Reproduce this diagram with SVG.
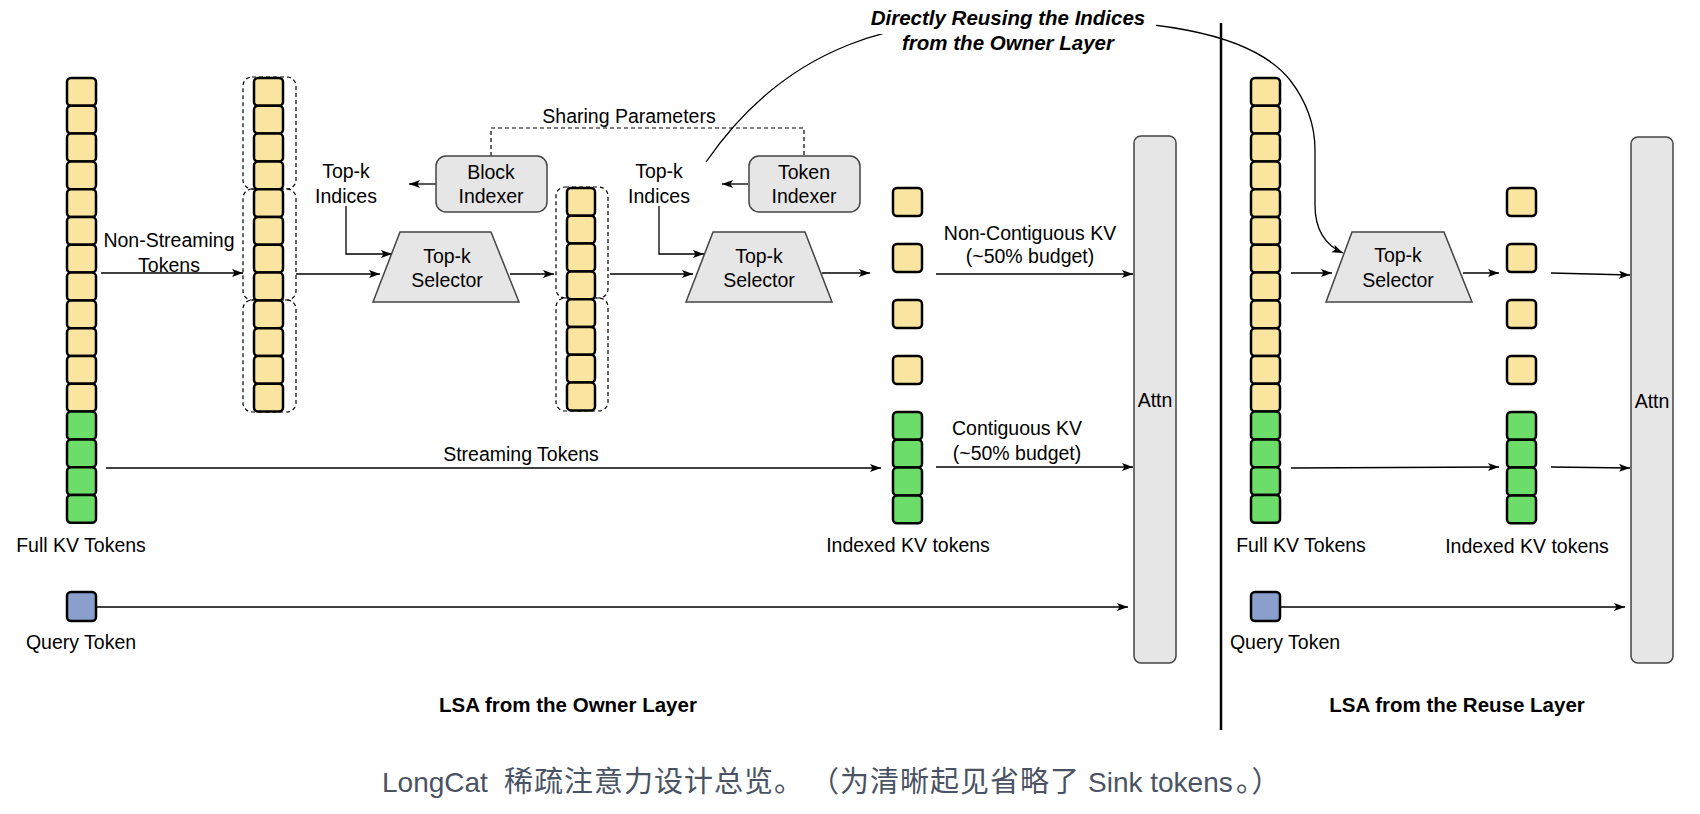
<svg xmlns="http://www.w3.org/2000/svg" width="1700" height="814" viewBox="0 0 1700 814">
<style>
text{font-family:"Liberation Sans",Arial,sans-serif;font-size:19.5px;fill:#000;text-anchor:middle}
.b{font-weight:bold;font-size:20.5px}
.bi{font-weight:bold;font-style:italic;font-size:20.5px}
.cap{font-family:"Liberation Sans","Noto Sans CJK SC",sans-serif;font-size:28px;fill:#4a5363;text-anchor:start}
.cj{font-family:"Noto Sans CJK SC",sans-serif;font-size:29px;letter-spacing:1px}
.y{fill:#fae5a0;stroke:#000;stroke-width:2.5}
.g{fill:#6ddd6a;stroke:#000;stroke-width:2.5}
.q{fill:#8a9fcc;stroke:#000;stroke-width:2.5}
.box{fill:#e6e6e6;stroke:#444;stroke-width:1.5}
.dash{fill:none;stroke:#000;stroke-width:1.2;stroke-dasharray:4 3}
.ln{fill:none;stroke:#000;stroke-width:1.3}
.ar{fill:none;stroke:#000;stroke-width:1.3;marker-end:url(#ah)}
</style>
<defs>
<marker id="ah" markerUnits="userSpaceOnUse" markerWidth="12" markerHeight="9" refX="11" refY="4" orient="auto">
<path d="M0,0 L11,4 L0,8 L2.5,4 z" fill="#000"/>
</marker>
</defs>
<rect width="1700" height="814" fill="#fff"/>

<g id="connectors">
<path class="ar" d="M101,273 H243"/>
<path class="ar" d="M296,274 H380"/>
<path class="ar" d="M510,274 H554"/>
<path class="ar" d="M610,274 H693"/>
<path class="ar" d="M822,273 H870"/>
<path class="ar" d="M936,274 H1133"/>
<path class="ar" d="M106,468 H881"/>
<path class="ar" d="M936,467 H1133"/>
<path class="ar" d="M96,607 H1128"/>
<path class="ar" d="M436,184 H409"/>
<path class="ar" d="M748,184 H722"/>
<path class="ar" d="M346,206 V254 H392"/>
<path class="ar" d="M659,206 V254 H704"/>
<path class="dash" d="M491,156 V128 H804 V156"/>
<path class="ar" d="M706,162 C790,40 900,20 1010,18 C1150,18 1250,30 1290,80 C1310,106 1315,132 1315,150 L1315,205 C1315,230 1325,245 1343,253"/>
<path class="ar" d="M1291,273 H1332"/>
<path class="ar" d="M1463,273 H1499"/>
<path class="ar" d="M1551,273 L1630,275"/>
<path class="ar" d="M1291,468 L1499,467"/>
<path class="ar" d="M1551,467 L1630,468"/>
<path class="ar" d="M1279,607 H1625"/>
</g>

<g id="reuse-label">
<rect x="866" y="6" width="290" height="28" fill="#fff"/>
<rect x="896" y="32" width="224" height="26" fill="#fff"/>
<text class="bi" x="1008" y="25">Directly Reusing the Indices</text>
<text class="bi" x="1008" y="50">from the Owner Layer</text>
</g>

<g id="separator">
<path d="M1221,23 V730" stroke="#000" stroke-width="2.5"/>
</g>

<g id="full-kv-owner">
<rect class="y" x="67" y="78" width="29" height="27.8" rx="4"/>
<rect class="y" x="67" y="105.8" width="29" height="27.8" rx="4"/>
<rect class="y" x="67" y="133.6" width="29" height="27.8" rx="4"/>
<rect class="y" x="67" y="161.4" width="29" height="27.8" rx="4"/>
<rect class="y" x="67" y="189.2" width="29" height="27.8" rx="4"/>
<rect class="y" x="67" y="217" width="29" height="27.8" rx="4"/>
<rect class="y" x="67" y="244.8" width="29" height="27.8" rx="4"/>
<rect class="y" x="67" y="272.6" width="29" height="27.8" rx="4"/>
<rect class="y" x="67" y="300.4" width="29" height="27.8" rx="4"/>
<rect class="y" x="67" y="328.2" width="29" height="27.8" rx="4"/>
<rect class="y" x="67" y="356" width="29" height="27.8" rx="4"/>
<rect class="y" x="67" y="383.8" width="29" height="27.8" rx="4"/>
<rect class="g" x="67" y="411.6" width="29" height="27.8" rx="4"/>
<rect class="g" x="67" y="439.4" width="29" height="27.8" rx="4"/>
<rect class="g" x="67" y="467.2" width="29" height="27.8" rx="4"/>
<rect class="g" x="67" y="495" width="29" height="27.8" rx="4"/>
<text x="81" y="552">Full KV Tokens</text>
</g>

<g id="query-owner">
<rect class="q" x="67" y="592" width="29" height="29" rx="4"/>
<text x="81" y="649">Query Token</text>
</g>

<g id="non-streaming-label">
<text x="169" y="247">Non-Streaming</text>
<text x="169" y="272">Tokens</text>
</g>
<text id="streaming-label" x="521" y="461">Streaming Tokens</text>

<g id="blocks">
<rect class="dash" x="243" y="77" width="53" height="112" rx="9"/>
<rect class="dash" x="243" y="189" width="53" height="111" rx="9"/>
<rect class="dash" x="243" y="300" width="53" height="112" rx="9"/>
<rect class="y" x="254" y="78" width="29" height="27.8" rx="4"/>
<rect class="y" x="254" y="105.8" width="29" height="27.8" rx="4"/>
<rect class="y" x="254" y="133.6" width="29" height="27.8" rx="4"/>
<rect class="y" x="254" y="161.4" width="29" height="27.8" rx="4"/>
<rect class="y" x="254" y="189.2" width="29" height="27.8" rx="4"/>
<rect class="y" x="254" y="217" width="29" height="27.8" rx="4"/>
<rect class="y" x="254" y="244.8" width="29" height="27.8" rx="4"/>
<rect class="y" x="254" y="272.6" width="29" height="27.8" rx="4"/>
<rect class="y" x="254" y="300.4" width="29" height="27.8" rx="4"/>
<rect class="y" x="254" y="328.2" width="29" height="27.8" rx="4"/>
<rect class="y" x="254" y="356" width="29" height="27.8" rx="4"/>
<rect class="y" x="254" y="383.8" width="29" height="27.8" rx="4"/>
</g>

<g id="topk-indices-1">
<text x="346" y="178">Top-k</text>
<text x="346" y="203">Indices</text>
</g>

<g id="block-indexer">
<rect class="box" x="436" y="156" width="111" height="56" rx="10"/>
<text x="491" y="179">Block</text>
<text x="491" y="203">Indexer</text>
</g>

<text id="sharing-label" x="629" y="123">Sharing Parameters</text>

<g id="selector-1">
<path class="box" d="M400,232 H491 L519,302 H373 Z"/>
<text x="447" y="263">Top-k</text>
<text x="447" y="287">Selector</text>
</g>

<g id="selected-blocks">
<rect class="dash" x="556" y="187" width="52" height="111" rx="9"/>
<rect class="dash" x="556" y="298" width="52" height="113" rx="9"/>
<rect class="y" x="567" y="188" width="28" height="27.8" rx="4"/>
<rect class="y" x="567" y="215.8" width="28" height="27.8" rx="4"/>
<rect class="y" x="567" y="243.6" width="28" height="27.8" rx="4"/>
<rect class="y" x="567" y="271.4" width="28" height="27.8" rx="4"/>
<rect class="y" x="567" y="299.2" width="28" height="27.8" rx="4"/>
<rect class="y" x="567" y="327" width="28" height="27.8" rx="4"/>
<rect class="y" x="567" y="354.8" width="28" height="27.8" rx="4"/>
<rect class="y" x="567" y="382.6" width="28" height="27.8" rx="4"/>
</g>

<g id="topk-indices-2">
<text x="659" y="178">Top-k</text>
<text x="659" y="203">Indices</text>
</g>

<g id="token-indexer">
<rect class="box" x="749" y="156" width="111" height="56" rx="10"/>
<text x="804" y="179">Token</text>
<text x="804" y="203">Indexer</text>
</g>

<g id="selector-2">
<path class="box" d="M713,232 H805 L832,302 H686 Z"/>
<text x="759" y="263">Top-k</text>
<text x="759" y="287">Selector</text>
</g>

<g id="indexed-kv-owner">
<rect class="y" x="893" y="188" width="29" height="28" rx="4"/>
<rect class="y" x="893" y="244" width="29" height="28" rx="4"/>
<rect class="y" x="893" y="300" width="29" height="28" rx="4"/>
<rect class="y" x="893" y="356" width="29" height="28" rx="4"/>
<rect class="g" x="893" y="412" width="29" height="27.8" rx="4"/>
<rect class="g" x="893" y="439.8" width="29" height="27.8" rx="4"/>
<rect class="g" x="893" y="467.6" width="29" height="27.8" rx="4"/>
<rect class="g" x="893" y="495.4" width="29" height="27.8" rx="4"/>
<text x="908" y="552">Indexed KV tokens</text>
</g>

<g id="kv-labels">
<text x="1030" y="240">Non-Contiguous KV</text>
<text x="1030" y="263">(~50% budget)</text>
<text x="1017" y="435">Contiguous KV</text>
<text x="1017" y="460">(~50% budget)</text>
</g>

<g id="attn-owner">
<rect class="box" x="1134" y="136" width="42" height="527" rx="7"/>
<text x="1155" y="407">Attn</text>
</g>

<text id="owner-title" class="b" x="568" y="712">LSA from the Owner Layer</text>

<g id="full-kv-reuse">
<rect class="y" x="1251" y="78" width="29" height="27.8" rx="4"/>
<rect class="y" x="1251" y="105.8" width="29" height="27.8" rx="4"/>
<rect class="y" x="1251" y="133.6" width="29" height="27.8" rx="4"/>
<rect class="y" x="1251" y="161.4" width="29" height="27.8" rx="4"/>
<rect class="y" x="1251" y="189.2" width="29" height="27.8" rx="4"/>
<rect class="y" x="1251" y="217" width="29" height="27.8" rx="4"/>
<rect class="y" x="1251" y="244.8" width="29" height="27.8" rx="4"/>
<rect class="y" x="1251" y="272.6" width="29" height="27.8" rx="4"/>
<rect class="y" x="1251" y="300.4" width="29" height="27.8" rx="4"/>
<rect class="y" x="1251" y="328.2" width="29" height="27.8" rx="4"/>
<rect class="y" x="1251" y="356" width="29" height="27.8" rx="4"/>
<rect class="y" x="1251" y="383.8" width="29" height="27.8" rx="4"/>
<rect class="g" x="1251" y="411.6" width="29" height="27.8" rx="4"/>
<rect class="g" x="1251" y="439.4" width="29" height="27.8" rx="4"/>
<rect class="g" x="1251" y="467.2" width="29" height="27.8" rx="4"/>
<rect class="g" x="1251" y="495" width="29" height="27.8" rx="4"/>
<text x="1301" y="552">Full KV Tokens</text>
</g>

<g id="query-reuse">
<rect class="q" x="1251" y="592" width="29" height="29" rx="4"/>
<text x="1285" y="649">Query Token</text>
</g>

<g id="selector-reuse">
<path class="box" d="M1352,232 H1444 L1472,302 H1326 Z"/>
<text x="1398" y="262">Top-k</text>
<text x="1398" y="287">Selector</text>
</g>

<g id="indexed-kv-reuse">
<rect class="y" x="1507" y="188" width="29" height="28" rx="4"/>
<rect class="y" x="1507" y="244" width="29" height="28" rx="4"/>
<rect class="y" x="1507" y="300" width="29" height="28" rx="4"/>
<rect class="y" x="1507" y="356" width="29" height="28" rx="4"/>
<rect class="g" x="1507" y="412" width="29" height="27.8" rx="4"/>
<rect class="g" x="1507" y="439.8" width="29" height="27.8" rx="4"/>
<rect class="g" x="1507" y="467.6" width="29" height="27.8" rx="4"/>
<rect class="g" x="1507" y="495.4" width="29" height="27.8" rx="4"/>
<text x="1527" y="553">Indexed KV tokens</text>
</g>

<g id="attn-reuse">
<rect class="box" x="1631" y="137" width="42" height="526" rx="7"/>
<text x="1652" y="408">Attn</text>
</g>

<text id="reuse-title" class="b" x="1457" y="712">LSA from the Reuse Layer</text>

<text id="caption" class="cap" x="382" y="792">LongCat<tspan class="cj" x="504">稀疏注意力设计总览。</tspan><tspan class="cj" x="810">（为清晰起见省略了</tspan><tspan x="1088">Sink tokens</tspan><tspan class="cj" x="1236">。）</tspan></text>
</svg>
